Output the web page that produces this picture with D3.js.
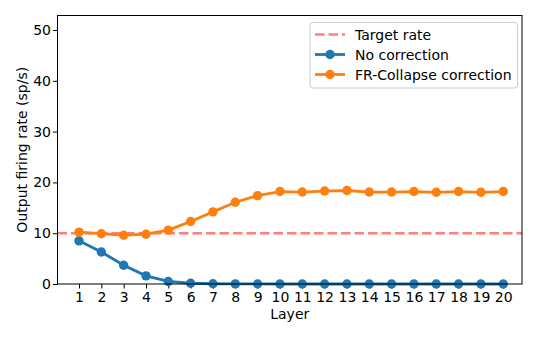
<!DOCTYPE html>
<html>
<head>
<meta charset="utf-8">
<script src="https://cdn.jsdelivr.net/npm/d3@7"></script>
<style>
  body { margin: 0; background: white; }
  svg text { font-family: "DejaVu Sans", sans-serif; }
</style>
</head>
<body>
<div id="chart"></div>
<script>
const layers = d3.range(1, 21);
const noCorrection = [8.5, 6.3, 3.7, 1.6, 0.5, 0.15, 0.05, 0.02, 0.01, 0, 0, 0, 0, 0, 0, 0, 0, 0, 0, 0];
const frCollapse = [10.2, 9.9, 9.6, 9.8, 10.6, 12.3, 14.2, 16.1, 17.4, 18.2, 18.1, 18.3, 18.4, 18.1, 18.1, 18.2, 18.05, 18.2, 18.05, 18.2];
const targetRate = 10;
const yTicks = [0, 10, 20, 30, 40, 50];

const width = 540, height = 338,
  margin = ({top: 15.5, right: 18, bottom: 54, left: 57.5});

const svg = d3.select("#chart").append("svg")
  .attr("width", width).attr("height", height);

const x = d3.scaleLinear()
  .domain([0.037, 20.84])
  .range([margin.left, width - margin.right]);

const y = d3.scaleLinear()
  .domain([0, 52.85])
  .range([height - margin.bottom, margin.top]);

// axes
const xAxis = svg.append("g")
  .attr("transform", `translate(0,${height - margin.bottom})`)
  .call(d3.axisBottom(x).tickValues(layers).tickFormat(d3.format("d")).tickSize(4.5).tickPadding(3.5));
const yAxis = svg.append("g")
  .attr("transform", `translate(${margin.left},0)`)
  .call(d3.axisLeft(y).tickValues(yTicks).tickSize(4.5).tickPadding(2));
for (const g of [xAxis, yAxis]) {
  g.select(".domain").remove();
  g.selectAll("text").attr("font-size", 14).attr("fill", "black").attr("font-family", "DejaVu Sans");
  g.selectAll("line").attr("stroke", "black").attr("stroke-width", 1);
}

// target line
svg.append("line")
  .attr("x1", margin.left).attr("x2", width - margin.right)
  .attr("y1", y(targetRate)).attr("y2", y(targetRate))
  .attr("stroke", "#ff7f7f").attr("stroke-width", 2.6)
  .attr("stroke-dasharray", "9.5,4");

const line = d3.line().x((d, i) => x(layers[i])).y(d => y(d));

const series = [
  {values: noCorrection, color: "#1f77b4"},
  {values: frCollapse, color: "#ff7f0e"}
];
for (const s of series) {
  svg.append("path")
    .datum(s.values)
    .attr("d", line)
    .attr("fill", "none")
    .attr("stroke", s.color)
    .attr("stroke-width", 2.8);
  svg.append("g").selectAll("circle")
    .data(s.values)
    .join("circle")
    .attr("cx", (d, i) => x(layers[i]))
    .attr("cy", d => y(d))
    .attr("r", 4.7)
    .attr("fill", s.color);
}

// frame
svg.append("rect")
  .attr("x", margin.left).attr("y", margin.top)
  .attr("width", width - margin.left - margin.right)
  .attr("height", height - margin.top - margin.bottom)
  .attr("fill", "none").attr("stroke", "black").attr("stroke-width", 1);

// labels
svg.append("text")
  .attr("x", (margin.left + width - margin.right) / 2)
  .attr("y", 319)
  .attr("text-anchor", "middle")
  .attr("font-size", 14)
  .text("Layer");
svg.append("text")
  .attr("transform", `translate(27,${(margin.top + height - margin.bottom) / 2}) rotate(-90)`)
  .attr("text-anchor", "middle")
  .attr("font-size", 14)
  .text("Output firing rate (sp/s)");

// legend
const legendItems = [
  {label: "Target rate", color: "#ff7f7f", dashed: true},
  {label: "No correction", color: "#1f77b4"},
  {label: "FR-Collapse correction", color: "#ff7f0e"}
];
const legend = svg.append("g");
legend.append("rect")
  .attr("x", 310).attr("y", 22.5).attr("width", 207.5).attr("height", 65.5)
  .attr("rx", 3).attr("fill", "white").attr("fill-opacity", 0.8)
  .attr("stroke", "#cccccc").attr("stroke-width", 1);
legendItems.forEach((d, i) => {
  const ly = 34.5 + i * 20;
  legend.append("line")
    .attr("x1", 315).attr("x2", 345).attr("y1", ly).attr("y2", ly)
    .attr("stroke", d.color).attr("stroke-width", d.dashed ? 2.6 : 2.8)
    .attr("stroke-dasharray", d.dashed ? "9.5,4" : null);
  if (!d.dashed) {
    legend.append("circle").attr("cx", 330).attr("cy", ly).attr("r", 4.7).attr("fill", d.color);
  }
  legend.append("text")
    .attr("x", 355).attr("y", ly + 5)
    .attr("font-size", 14)
    .text(d.label);
});
</script>
</body>
</html>
